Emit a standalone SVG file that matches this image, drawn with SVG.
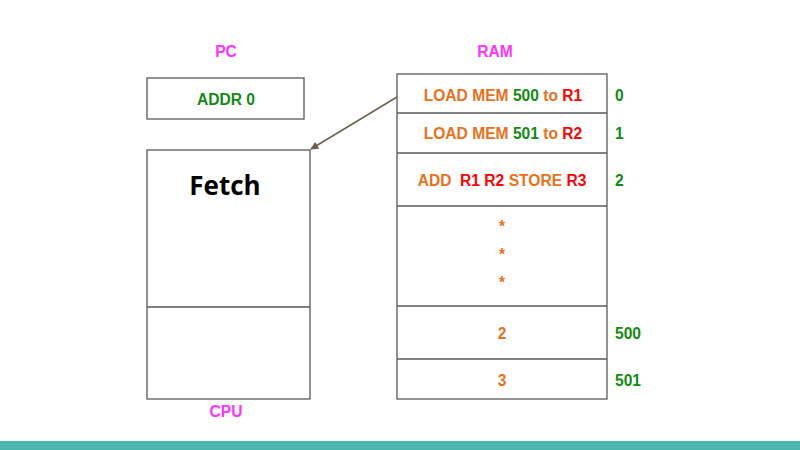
<svg xmlns="http://www.w3.org/2000/svg" width="800" height="450" viewBox="0 0 800 450">
<style>
.box{fill:#fff;stroke:#595959;stroke-width:1.3}
.t{font-family:"Liberation Sans",Arial,sans-serif;font-weight:bold;font-size:15.6px}
.m{text-anchor:middle}
.o{fill:#e8711a}.g{fill:#138a13}.r{fill:#ff0000}.p{fill:#ff33ff}
.conn{stroke:#6b604f;stroke-width:1.5;fill:none}
</style>
<defs>
<marker id="ah" viewBox="0 0 10 10" refX="9" refY="5" markerWidth="9" markerHeight="8" orient="auto" markerUnits="userSpaceOnUse">
<path d="M0,0 L10,5 L0,10 z" fill="#6b604f"/>
</marker>
</defs>
<rect width="800" height="450" fill="#fff"/>
<rect x="0" y="441" width="800" height="9" fill="#4db6ac"/>

<g id="pc">
<text class="t m p" x="226" y="57">PC</text>
<rect class="box" x="147" y="78" width="157" height="41"/>
<text class="t m g" x="226" y="104.5">ADDR 0</text>
</g>

<g id="cpu">
<rect class="box" x="147" y="150" width="163" height="249"/>
<line x1="147" y1="307" x2="310" y2="307" stroke="#595959" stroke-width="1.3"/>
<text x="225" y="195" text-anchor="middle" font-family="'Open Sans',sans-serif" font-weight="bold" font-size="26" fill="#000">Fetch</text>
<text class="t m p" x="226" y="417">CPU</text>
</g>

<g id="ram">
<text class="t m p" x="495" y="57">RAM</text>
<rect class="box" x="397" y="74" width="210" height="325"/>
<g stroke="#595959" stroke-width="1.3">
<line x1="397" y1="113" x2="607" y2="113"/>
<line x1="397" y1="153" x2="607" y2="153"/>
<line x1="397" y1="206" x2="607" y2="206"/>
<line x1="397" y1="306" x2="607" y2="306"/>
<line x1="397" y1="359" x2="607" y2="359"/>
</g>
<text class="t m" x="503" y="100.5"><tspan class="o">LOAD MEM </tspan><tspan class="g">500 </tspan><tspan class="o">to </tspan><tspan class="r">R1</tspan></text>
<text class="t m" x="503" y="138.5"><tspan class="o">LOAD MEM </tspan><tspan class="g">501 </tspan><tspan class="o">to </tspan><tspan class="r">R2</tspan></text>
<text class="t m" x="502" y="185.5" xml:space="preserve"><tspan class="o">ADD  </tspan><tspan class="r">R1 R2 </tspan><tspan class="o">STORE </tspan><tspan class="r">R3</tspan></text>
<text class="t m o" x="502" y="232" font-size="21">*</text>
<text class="t m o" x="502" y="260" font-size="21">*</text>
<text class="t m o" x="502" y="288" font-size="21">*</text>
<text class="t m o" x="502" y="338.5">2</text>
<text class="t m o" x="502" y="385.5">3</text>
<text class="t g" x="615" y="100.5">0</text>
<text class="t g" x="615" y="138.5">1</text>
<text class="t g" x="615" y="185.5">2</text>
<text class="t g" x="615" y="338.5">500</text>
<text class="t g" x="615" y="385.5">501</text>
</g>

<g id="connectors">
<line class="conn" x1="397" y1="97" x2="311" y2="149" marker-end="url(#ah)"/>
</g>
</svg>
